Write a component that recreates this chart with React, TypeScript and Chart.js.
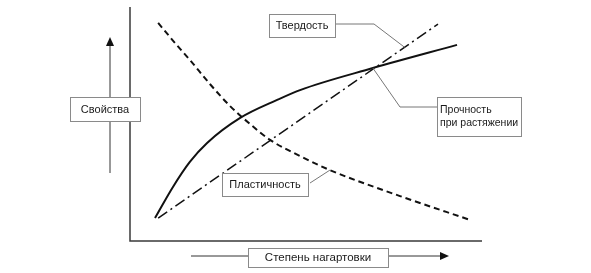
import React, { useEffect, useRef } from "react";
import { Chart, registerables } from "chart.js";

Chart.register(...registerables);

// Degree of cold work (0–100, relative) and property level (0–100, relative)
const strengthX = [7.1, 12.2, 17.0, 21.9, 31.3, 41.8, 48.3, 69.0, 92.9];
const strengthY = [9.8, 23.1, 33.8, 41.9, 52.6, 60.3, 64.5, 73.9, 83.8];

const hardnessX = [8.0, 68.8, 87.5];
const hardnessY = [9.8, 73.2, 92.7];

const plasticityX = [8.0, 12.8, 17.0, 22.7, 28.4, 34.1, 39.8, 48.3, 56.8, 76.7, 96.6];
const plasticityY = [93.2, 84.6, 77.4, 67.1, 57.7, 50.0, 43.2, 36.3, 30.3, 19.2, 9.0];

const labelProperties = "Свойства";
const labelDegree = "Степень нагартовки";
const labelHardness = "Твердость";
const labelStrength = ["Прочность", "при растяжении"];
const labelPlasticity = "Пластичность";

const pts = (xs: number[], ys: number[]) => xs.map((x, i) => ({ x, y: ys[i] }));

const FONT = '11px "Liberation Sans", Arial, sans-serif';

function box(ctx: CanvasRenderingContext2D, x: number, y: number, w: number, h: number) {
  ctx.save();
  ctx.fillStyle = "#ffffff";
  ctx.fillRect(x, y, w, h);
  ctx.strokeStyle = "#8a8a8a";
  ctx.lineWidth = 1;
  ctx.strokeRect(x + 0.5, y + 0.5, w, h);
  ctx.restore();
}

function text(
  ctx: CanvasRenderingContext2D,
  s: string,
  x: number,
  y: number,
  align: CanvasTextAlign,
  font: string = FONT
) {
  ctx.save();
  ctx.font = font;
  ctx.fillStyle = "#1a1a1a";
  ctx.textAlign = align;
  ctx.textBaseline = "middle";
  ctx.fillText(s, x, y);
  ctx.restore();
}

function poly(ctx: CanvasRenderingContext2D, p: number[][], color: string, width: number) {
  ctx.save();
  ctx.strokeStyle = color;
  ctx.lineWidth = width;
  ctx.beginPath();
  p.forEach(([x, y], i) => (i ? ctx.lineTo(x, y) : ctx.moveTo(x, y)));
  ctx.stroke();
  ctx.restore();
}

function arrowHead(ctx: CanvasRenderingContext2D, tipX: number, tipY: number, dir: "up" | "right") {
  ctx.save();
  ctx.fillStyle = "#111";
  ctx.beginPath();
  if (dir === "up") {
    ctx.moveTo(tipX, tipY);
    ctx.lineTo(tipX - 4, tipY + 9);
    ctx.lineTo(tipX + 4, tipY + 9);
  } else {
    ctx.moveTo(tipX, tipY);
    ctx.lineTo(tipX - 9, tipY - 4);
    ctx.lineTo(tipX - 9, tipY + 4);
  }
  ctx.closePath();
  ctx.fill();
  ctx.restore();
}

const decorPlugin = {
  id: "decor",
  beforeDatasetsDraw(chart: any) {
    const { ctx, chartArea } = chart;
    poly(
      ctx,
      [
        [chartArea.left, chartArea.top],
        [chartArea.left, chartArea.bottom],
        [chartArea.right, chartArea.bottom],
      ],
      "#3a3a3a",
      1.5
    );
  },
  afterDatasetsDraw(chart: any) {
    const { ctx } = chart;
    const xs = chart.scales.x;
    const ys = chart.scales.y;
    const px = (v: number) => xs.getPixelForValue(v);
    const py = (v: number) => ys.getPixelForValue(v);

    // Vertical arrow with "Свойства"
    poly(ctx, [[110, 173], [110, 44]], "#333", 1);
    arrowHead(ctx, 110, 37, "up");
    box(ctx, 70, 97, 70, 24);
    text(ctx, labelProperties, 105, 109.5, "center");

    // Horizontal arrow with "Степень нагартовки"
    poly(ctx, [[191, 256], [441, 256]], "#333", 1);
    arrowHead(ctx, 449, 256, "right");
    box(ctx, 248, 248, 140, 19);
    text(ctx, labelDegree, 318, 258, "center", '11.5px "Liberation Sans", Arial, sans-serif');

    // Hardness leader
    const hx = 78;
    const hy =
      hardnessY[0] + ((hx - hardnessX[0]) / (hardnessX[2] - hardnessX[0])) * (hardnessY[2] - hardnessY[0]);
    poly(ctx, [[336, 24], [374, 24], [px(hx), py(hy)]], "#777", 1);
    box(ctx, 269, 14, 66, 23);
    text(ctx, labelHardness, 302, 26, "center");

    // Strength leader
    poly(ctx, [[437, 107], [400, 107], [px(strengthX[7]), py(strengthY[7])]], "#777", 1);
    box(ctx, 437, 97, 84, 39);
    const small = '10.5px "Liberation Sans", Arial, sans-serif';
    text(ctx, labelStrength[0], 440, 110, "left", small);
    text(ctx, labelStrength[1], 440, 123, "left", small);

    // Plasticity leader
    poly(ctx, [[310, 183], [px(plasticityX[8]), py(plasticityY[8])]], "#777", 1);
    box(ctx, 222, 173, 86, 23);
    text(ctx, labelPlasticity, 265, 185, "center");
  },
};

export default function App() {
  const ref = useRef<HTMLCanvasElement | null>(null);
  useEffect(() => {
    if (!ref.current) return;
    const chart = new Chart(ref.current, {
      type: "line",
      data: {
        datasets: [
          {
            label: "Прочность при растяжении",
            data: pts(strengthX, strengthY),
            borderColor: "#111",
            borderWidth: 2,
            pointRadius: 0,
            cubicInterpolationMode: "monotone",
            fill: false,
          },
          {
            label: "Твердость",
            data: pts(hardnessX, hardnessY),
            borderColor: "#111",
            borderWidth: 1.5,
            borderDash: [11, 4, 2, 4],
            pointRadius: 0,
            tension: 0,
            fill: false,
          },
          {
            label: "Пластичность",
            data: pts(plasticityX, plasticityY),
            borderColor: "#111",
            borderWidth: 2,
            borderDash: [6, 4],
            pointRadius: 0,
            cubicInterpolationMode: "monotone",
            fill: false,
          },
        ],
      },
      options: {
        responsive: false,
        animation: false,
        events: [],
        layout: { padding: { left: 130, top: 7, right: 109, bottom: 32 } },
        scales: {
          x: { type: "linear", min: 0, max: 100, display: false },
          y: { type: "linear", min: 0, max: 100, display: false },
        },
        plugins: { legend: { display: false }, tooltip: { enabled: false } },
      },
      plugins: [decorPlugin],
    } as any);
    return () => chart.destroy();
  }, []);
  return (
    <div style={{ position: "absolute", left: 0, top: 0, width: 591, height: 273, background: "#fff" }}>
      <canvas ref={ref} width={591} height={273} />
    </div>
  );
}
